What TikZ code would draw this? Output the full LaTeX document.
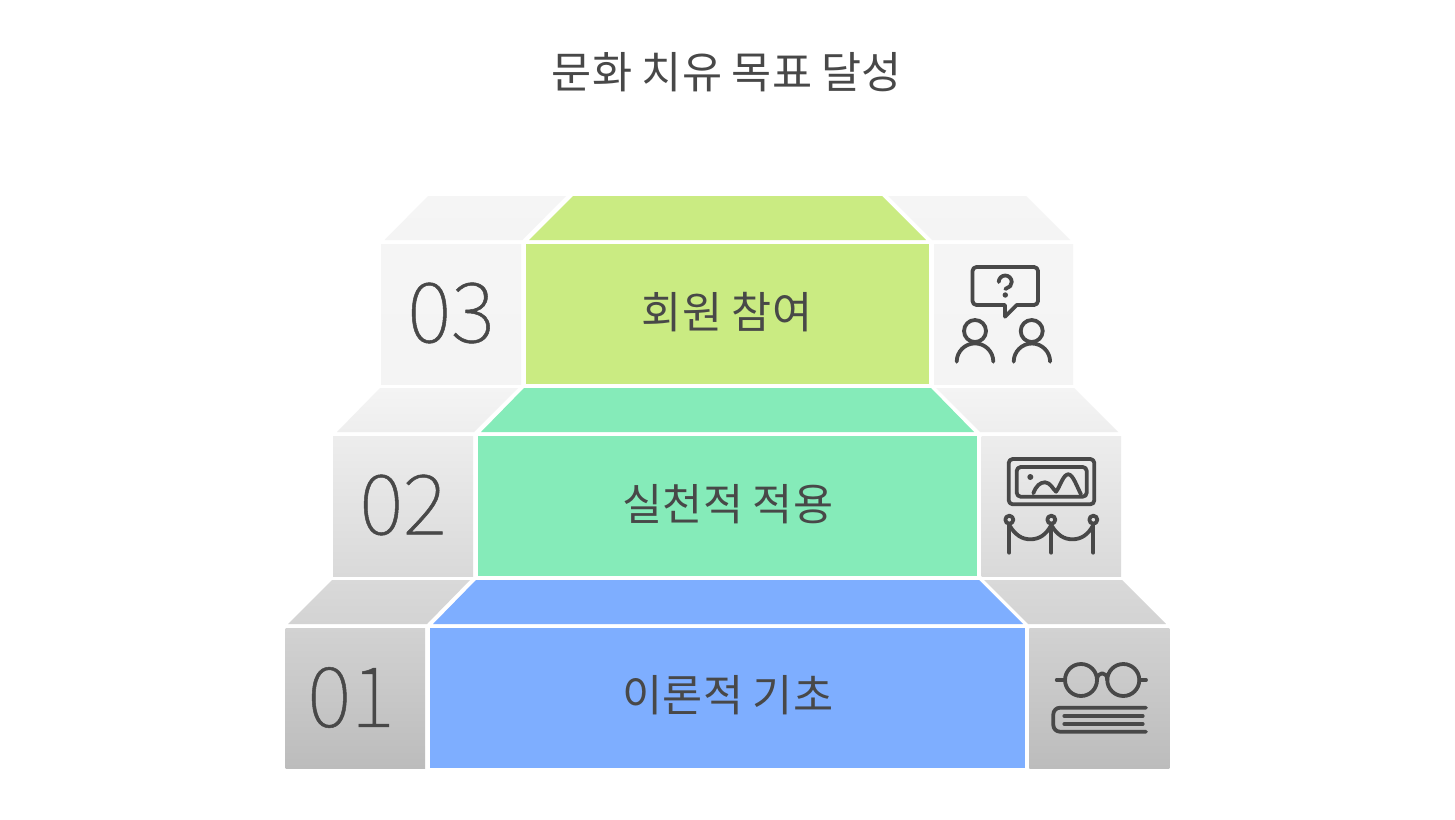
\documentclass[tikz,border=0pt]{standalone}
\usepackage{fontspec}
\setmainfont{Noto Sans CJK KR}
\newfontfamily\numfont[FakeBold=0.6]{Noto Sans CJK KR Thin}
\definecolor{ink}{HTML}{484848}
\definecolor{cgreen}{HTML}{CAEB82}
\definecolor{cmint}{HTML}{85EBB9}
\definecolor{cblue}{HTML}{7EAEFF}
\definecolor{gA}{RGB}{245,245,245}
\definecolor{gB}{RGB}{244,244,244}
\definecolor{gC}{RGB}{238,238,238}
\definecolor{gD}{RGB}{237,237,237}
\definecolor{gE}{RGB}{217,217,217}
\definecolor{gF}{RGB}{211,211,211}
\definecolor{gG}{RGB}{210,210,210}
\definecolor{gH}{RGB}{188,188,188}
\tikzset{
  icon/.style={draw=ink,line width=2.85pt,line cap=round,line join=round},
  dotmark/.style={fill=ink,draw=none},
  grad/.style 2 args={top color=#1,bottom color=#2,draw=none},
  textlabel/.style={text=ink,font=\fontsize{32.7pt}{36pt}\selectfont,inner sep=0pt},
  numlabel/.style={text=ink,font=\numfont\fontsize{62.5pt}{70pt}\selectfont,inner sep=0pt},
}
\begin{document}
\begin{tikzpicture}[x=0.75pt,y=-0.75pt]
\useasboundingbox (0,0) rectangle (1455,820);
\fill[white] (0,0) rectangle (1455,820);
% row 3
\path[grad={gA}{gB}] (428,196)--(566,196)--(522.5,240)--(384.5,240)--cycle;
\fill[cgreen] (573,196)--(882,196)--(926,240)--(529,240)--cycle;
\path[grad={gA}{gB}] (888,196)--(1026,196)--(1070,240)--(932,240)--cycle;
\path[grad={gA}{gB}] (381,244) rectangle (521,384);
\fill[cgreen] (525.7,244) rectangle (929,384);
\path[grad={gA}{gB}] (934,244) rectangle (1073,384);
% row 2
\path[grad={gB}{gC}] (380,388)--(518,388)--(474,432)--(337,432)--cycle;
\fill[cmint] (524,388)--(931,388)--(974,432)--(481,432)--cycle;
\path[grad={gB}{gC}] (936,388)--(1074,388)--(1118,432)--(980,432)--cycle;
\path[grad={gD}{gE}] (333,436) rectangle (473,576);
\fill[cmint] (477.7,436) rectangle (977,576);
\path[grad={gD}{gE}] (981.7,436) rectangle (1121,576);
% row 1
\path[grad={gE}{gF}] (332,580)--(470,580)--(427,624)--(288,624)--cycle;
\fill[cblue] (476,580)--(979,580)--(1023,624)--(433,624)--cycle;
\path[grad={gE}{gF}] (984,580)--(1122,580)--(1166,624)--(1028,624)--cycle;
\path[grad={gG}{gH}] (285.5,628) rectangle (425,768);
\fill[cblue] (429.7,628) rectangle (1025,768);
\path[grad={gG}{gH}] (1029.3,628) rectangle (1169.3,768);
% text
\node[textlabel] (title) at (727,72.5) {문화 치유 목표 달성};
\node[textlabel] (l3) at (727,312.5) {회원 참여};
\node[textlabel] (l2) at (728,504.5) {실천적 적용};
\node[textlabel] (l1) at (728,695.5) {이론적 기초};
\node[numlabel] (n3) at (451,313) {03};
\node[numlabel] (n2) at (403,505) {02};
\node[numlabel] (n1) at (351,697.5) {01};
% icon: people and question
\draw[icon] (1005,316.7)--(1016.7,305)[rounded corners=3pt]--(1038,305)--(1038,267)--(972.5,267)--(972.5,305)[sharp corners]--(1005,305)--cycle;
\draw[icon] (998.7,282) arc[start angle=180,end angle=400,radius=6.5] -- (1005.3,289);
\fill[dotmark] (1005.3,295) circle[radius=2.7];
\draw[icon] (975,331) circle[radius=11];
\draw[icon] (956.7,361.7) arc[start angle=180,end angle=360,radius=18.3];
\draw[icon] (1031.7,331) circle[radius=11];
\draw[icon] (1013.7,361.7) arc[start angle=180,end angle=360,radius=18.2];
% icon: gallery
\draw[icon,rounded corners=3pt] (1008.7,459) rectangle (1094.3,504.3);
\draw[icon,rounded corners=3pt] (1016.7,467) rectangle (1086.7,496.7);
\fill[dotmark] (1030.3,477) circle[radius=3];
\draw[icon] (1033.3,493.3) .. controls (1036,486) and (1040,482.3) .. (1045,482.3)
  .. controls (1050,482.3) and (1053,489) .. (1056,491.7)
  .. controls (1060,487) and (1063,474.3) .. (1068.3,474.3)
  .. controls (1073,474.3) and (1077,487) .. (1081,494.3);
\foreach \px in {1009.3,1051.3,1093.3}{
  \draw[icon] (\px,519.7) circle[radius=4];
  \draw[icon] (\px,525) -- (\px,552.7);
}
\draw[icon] (1009.3,525) .. controls (1015,535) and (1022,539.3) .. (1030.3,539.3)
  .. controls (1039,539.3) and (1046,535) .. (1051.3,525)
  .. controls (1057,535) and (1064,539.3) .. (1072.3,539.3)
  .. controls (1081,539.3) and (1088,535) .. (1093.3,525);
% icon: glasses and book
\draw[icon] (1081,680) circle[radius=16];
\draw[icon] (1123.3,680) circle[radius=16];
\draw[icon] (1097,680) .. controls (1097,671) and (1107.3,671) .. (1107.3,680);
\draw[icon] (1056.7,680) -- (1065,680);
\draw[icon] (1139.3,680) -- (1146,680);
\draw[icon] (1146,707.7) -- (1060,707.7) arc[start angle=270,end angle=180,radius=6.7] -- (1053.3,725) arc[start angle=180,end angle=90,radius=6.7] -- (1146,731.7);
\draw[icon] (1064.3,716) -- (1142.7,716);
\draw[icon] (1064.3,724) -- (1142.7,724);
\end{tikzpicture}
\end{document}
